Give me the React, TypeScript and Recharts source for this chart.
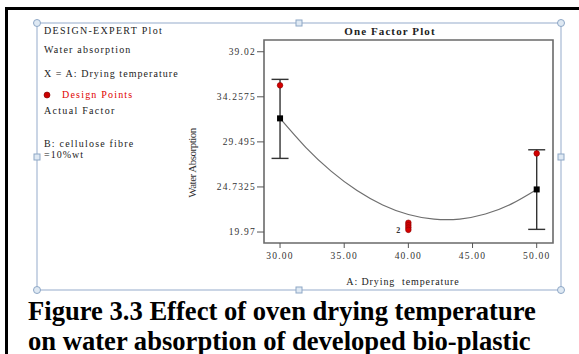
import React from 'react';
import { ComposedChart, XAxis, YAxis, Line, Scatter, ErrorBar, ReferenceArea } from 'recharts';

// ---- data ----
const xDomain = [28.75, 51.27];
const yDomain = [18.81, 40.26];
const xTicks = [30, 35, 40, 45, 50];
const yTicks = [19.97, 24.7325, 29.495, 34.2575, 39.02];
const yTickLabels = ['19.97', '24.7325', '29.495', '34.2575', '39.02'];

const curveTemps = [30, 32, 34, 36, 38, 40, 42, 44, 46, 48, 50];
const curveAbsorption = [31.98, 28.92, 26.38, 24.35, 22.83, 21.82, 21.33, 21.34, 21.87, 22.92, 24.47];

const predictedTemps = [30, 50];
const predictedAbsorption = [31.98, 24.47];
const lsdLower = [4.23, 4.22];
const lsdUpper = [4.12, 4.19];

const designTemps = [30, 40, 40, 40, 40, 50];
const designAbsorption = [35.47, 20.95, 20.7, 20.45, 20.2, 28.28];

const replicateTemps = [40];
const replicateAbsorption = [20.2];
const replicateCounts = ['2'];

const legendLines = [
  'DESIGN-EXPERT Plot',
  'Water absorption',
  'X = A: Drying temperature',
  'Design Points',
  'Actual Factor',
  'B: cellulose fibre',
  '=10%wt',
];

const captionLines = [
  'Figure 3.3 Effect of oven drying temperature',
  'on water absorption of developed bio-plastic',
];

// ---- tables built from the arrays ----
const curveData = curveTemps.map((x, i) => ({ x, y: curveAbsorption[i] }));
const predictedData = predictedTemps.map((x, i) => ({ x, y: predictedAbsorption[i], err: [lsdLower[i], lsdUpper[i]] }));
const designData = designTemps.map((x, i) => ({ x, y: designAbsorption[i] }));
const replicateData = replicateTemps.map((x, i) => ({ x, y: replicateAbsorption[i], count: replicateCounts[i] }));

const SERIF = '"Liberation Serif", "Times New Roman", serif';

const Square = (p: any) => <rect x={p.cx - 3} y={p.cy - 3} width={6} height={6} fill="#000" />;
const RedDot = (p: any) => (
  <circle cx={p.cx} cy={p.cy} r={2.8} fill="#d40000" stroke="#8a0000" strokeWidth={0.6} />
);
const CountLabel = (p: any) => (
  <text x={p.cx - 8} y={p.cy + 3} fontSize={8} textAnchor="end" fill="#333" fontFamily={SERIF} fontWeight="bold">
    {p.payload.count}
  </text>
);

const tickStyle = { fontSize: 9.5, fill: '#333', fontFamily: SERIF, letterSpacing: 1.2 };

const Handle = ({ x, y, round }: { x: number; y: number; round: boolean }) =>
  round ? (
    <circle cx={x} cy={y} r={3.5} fill="#dfe9f3" stroke="#8ea7c6" strokeWidth={1} />
  ) : (
    <rect x={x - 3} y={y - 3} width={6} height={6} fill="#dfe9f3" stroke="#8ea7c6" strokeWidth={1} />
  );

export default function App() {
  const fx0 = 37, fy0 = 23, fx1 = 561, fy1 = 290;
  const mx = 299, my = 157;
  const legendBaselines = [34, 52.7, 77.3, 97.5, 114, 147, 157.5];
  const legendSpacing = [1.3, 1.2, 1.05, 1.2, 1.3, 1.2, 1.0];
  return (
    <div
      style={{
        position: 'absolute',
        left: 0,
        top: 0,
        width: 579,
        height: 354,
        overflow: 'hidden',
        background: '#fff',
        fontFamily: SERIF,
      }}
    >
      {/* page rules */}
      <div style={{ position: 'absolute', left: 5, top: 7, width: 574, height: 2.5, background: '#000' }} />
      <div style={{ position: 'absolute', left: 5, top: 7, width: 2.5, height: 347, background: '#000' }} />

      {/* selection frame */}
      <svg width={579} height={354} style={{ position: 'absolute', left: 0, top: 0 }}>
        <rect x={fx0} y={fy0} width={fx1 - fx0} height={fy1 - fy0} fill="none" stroke="#a7bad4" strokeWidth={1.2} />
      </svg>

      <div style={{ position: 'absolute', left: 0, top: 0 }}>
        <ComposedChart width={579} height={354} margin={{ top: 40, right: 26, bottom: 81, left: 204 }}>
          <XAxis
            type="number"
            dataKey="x"
            domain={xDomain}
            ticks={xTicks}
            allowDataOverflow
            axisLine={false}
            tickLine={{ stroke: '#555' }}
            tickSize={5}
            tickMargin={4}
            height={30}
            tick={tickStyle}
            tickFormatter={(v: number) => v.toFixed(2)}
          />
          <YAxis
            type="number"
            dataKey="y"
            domain={yDomain}
            ticks={yTicks}
            allowDataOverflow
            axisLine={false}
            tickLine={{ stroke: '#555' }}
            tickSize={7}
            tickMargin={1}
            width={60}
            tick={tickStyle}
            tickFormatter={(v: number) => yTickLabels[yTicks.indexOf(v)] ?? String(v)}
          />
          <ReferenceArea
            x1={xDomain[0]}
            x2={xDomain[1]}
            y1={yDomain[0]}
            y2={yDomain[1]}
            fill="#fff"
            fillOpacity={0}
            stroke="#6a6a6a"
            strokeWidth={1.6}
            ifOverflow="visible"
          />
          <Line
            data={curveData}
            dataKey="y"
            type="natural"
            stroke="#6e6e6e"
            strokeWidth={1.2}
            dot={false}
            activeDot={false}
            isAnimationActive={false}
          />
          <Scatter data={predictedData} dataKey="y" shape={Square} isAnimationActive={false}>
            <ErrorBar dataKey="err" direction="y" width={8.5} stroke="#333" strokeWidth={1.4} isAnimationActive={false} />
          </Scatter>
          <Scatter data={designData} dataKey="y" shape={RedDot} isAnimationActive={false} />
          <Scatter data={replicateData} dataKey="y" shape={CountLabel} isAnimationActive={false} />
        </ComposedChart>
      </div>

      {/* texts and handles */}
      <svg width={579} height={354} style={{ position: 'absolute', left: 0, top: 0 }}>
        {legendLines.map((t, i) => (
          <text
            key={t}
            x={i === 3 ? 62 : 44}
            y={legendBaselines[i]}
            fontSize={10}
            letterSpacing={legendSpacing[i]}
            fill={i === 3 ? '#e00000' : '#222'}
            fontFamily={SERIF}
            style={{ whiteSpace: 'pre' }}
          >
            {t}
          </text>
        ))}
        <circle cx={47} cy={95} r={3} fill="#cc0000" stroke="#7a0000" strokeWidth={0.6} />

        <text x={390} y={35} fontSize={11} fontWeight="bold" letterSpacing={1.1} textAnchor="middle" fill="#222" fontFamily={SERIF}>
          One Factor Plot
        </text>
        <text
          x={0}
          y={0}
          transform="translate(196,163) rotate(-90)"
          fontSize={11}
          letterSpacing={-0.5}
          textAnchor="middle"
          fill="#333"
          fontFamily={SERIF}
        >
          Water Absorption
        </text>
        <text x={403} y={285} fontSize={10} letterSpacing={0.9} textAnchor="middle" fill="#222" fontFamily={SERIF} style={{ whiteSpace: 'pre' }}>
          A: Drying  temperature
        </text>

        <Handle x={fx0} y={fy0} round />
        <Handle x={fx1} y={fy0} round />
        <Handle x={fx0} y={fy1} round />
        <Handle x={fx1} y={fy1} round />
        <Handle x={mx} y={fy0} round={false} />
        <Handle x={mx} y={fy1} round={false} />
        <Handle x={fx0} y={my} round={false} />
        <Handle x={fx1} y={my} round={false} />

        {captionLines.map((t, i) => (
          <text key={t} x={28} y={320 + i * 30} fontSize={26.6} fontWeight="bold" fill="#000" fontFamily={SERIF}>
            {t}
          </text>
        ))}
      </svg>
    </div>
  );
}
